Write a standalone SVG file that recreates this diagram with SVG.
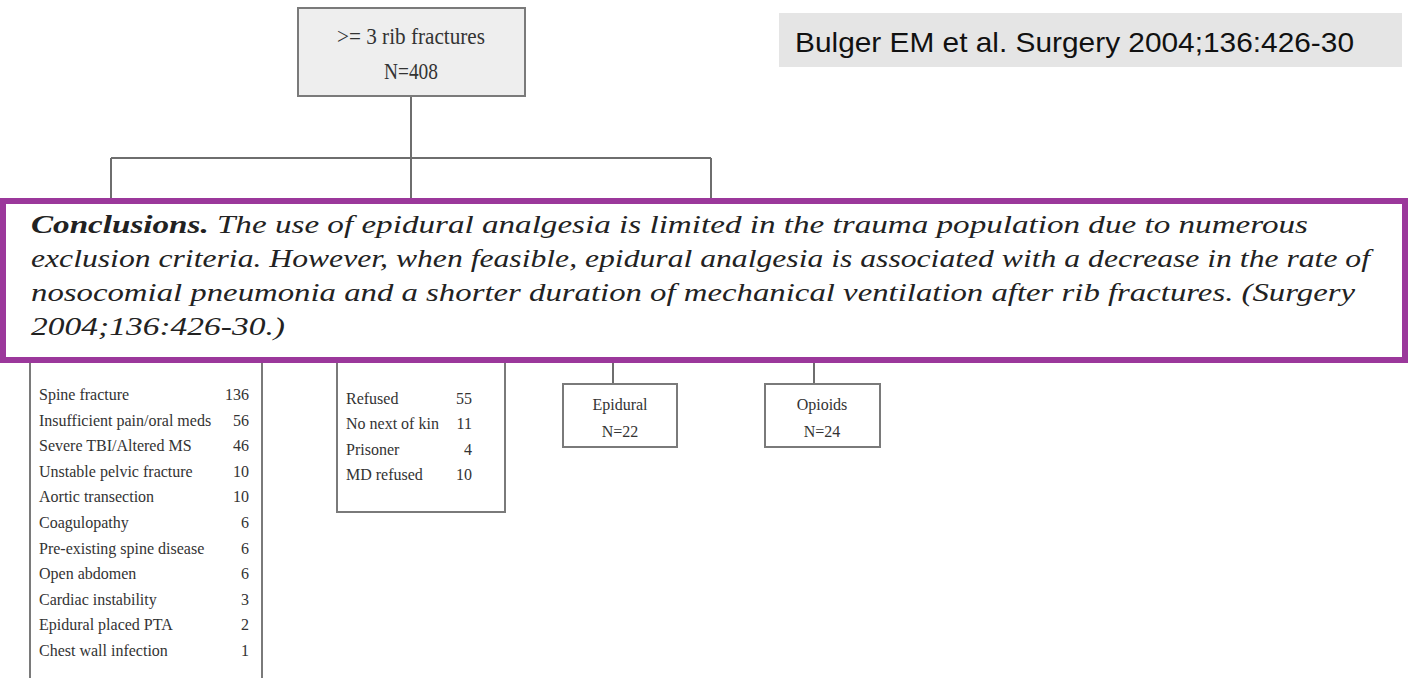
<svg xmlns="http://www.w3.org/2000/svg" width="1409" height="678" viewBox="0 0 1409 678">
<style>
.box{fill:#fff;stroke:#7a7a7a;stroke-width:2}
.conn{stroke:#6e6e6e;stroke-width:2;fill:none}
.t{font-family:"Liberation Serif",serif;font-size:16px;fill:#333}
.tr{font-family:"Liberation Serif",serif;font-size:16px;fill:#333;text-anchor:end}
.tc{font-family:"Liberation Serif",serif;font-size:16px;fill:#333;text-anchor:middle}
.concl{font-family:"Liberation Serif",serif;font-style:italic;font-size:26px;fill:#222}
</style>
<rect width="1409" height="678" fill="#fff"/>
<g id="connectors">
<line class="conn" x1="411" y1="96" x2="411" y2="200"/>
<line class="conn" x1="111" y1="158" x2="711" y2="158"/>
<line class="conn" x1="111" y1="158" x2="111" y2="200"/>
<line class="conn" x1="711" y1="158" x2="711" y2="200"/>
<line class="conn" x1="613" y1="360" x2="613" y2="383"/>
<line class="conn" x1="814" y1="360" x2="814" y2="383"/>
</g>
<g id="root">
<rect x="298" y="8" width="227" height="88" fill="#eeeeee" stroke="#7a7a7a" stroke-width="2"/>
<text x="411" y="44" font-family="Liberation Serif,serif" font-size="23" fill="#333" text-anchor="middle" textLength="148" lengthAdjust="spacingAndGlyphs">&gt;= 3 rib fractures</text>
<text x="411" y="79" font-family="Liberation Serif,serif" font-size="23" fill="#333" text-anchor="middle" textLength="54" lengthAdjust="spacingAndGlyphs">N=408</text>
</g>
<g id="citation">
<rect x="779" y="13" width="623" height="54" fill="#e5e5e5"/>
<text x="795" y="52" font-family="Liberation Sans,Arial,sans-serif" font-size="28" fill="#111" textLength="559" lengthAdjust="spacingAndGlyphs">Bulger EM et al. Surgery 2004;136:426-30</text>
</g>
<g id="exclusions">
<rect class="box" x="30" y="340" width="232" height="360"/>
<text class="t" x="39" y="400">Spine fracture</text><text class="tr" x="249" y="400">136</text>
<text class="t" x="39" y="425.6">Insufficient pain/oral meds</text><text class="tr" x="249" y="425.6">56</text>
<text class="t" x="39" y="451.2">Severe TBI/Altered MS</text><text class="tr" x="249" y="451.2">46</text>
<text class="t" x="39" y="476.8">Unstable pelvic fracture</text><text class="tr" x="249" y="476.8">10</text>
<text class="t" x="39" y="502.4">Aortic transection</text><text class="tr" x="249" y="502.4">10</text>
<text class="t" x="39" y="528">Coagulopathy</text><text class="tr" x="249" y="528">6</text>
<text class="t" x="39" y="553.6">Pre-existing spine disease</text><text class="tr" x="249" y="553.6">6</text>
<text class="t" x="39" y="579.2">Open abdomen</text><text class="tr" x="249" y="579.2">6</text>
<text class="t" x="39" y="604.8">Cardiac instability</text><text class="tr" x="249" y="604.8">3</text>
<text class="t" x="39" y="630.4">Epidural placed PTA</text><text class="tr" x="249" y="630.4">2</text>
<text class="t" x="39" y="656">Chest wall infection</text><text class="tr" x="249" y="656">1</text>
</g>
<g id="refusals">
<rect class="box" x="337" y="340" width="168" height="172"/>
<text class="t" x="346" y="404">Refused</text><text class="tr" x="472" y="404">55</text>
<text class="t" x="346" y="429">No next of kin</text><text class="tr" x="472" y="429">11</text>
<text class="t" x="346" y="455">Prisoner</text><text class="tr" x="472" y="455">4</text>
<text class="t" x="346" y="480">MD refused</text><text class="tr" x="472" y="480">10</text>
</g>
<g id="epidural">
<rect class="box" x="563" y="384" width="114" height="63"/>
<text class="tc" x="620" y="410">Epidural</text>
<text class="tc" x="620" y="437">N=22</text>
</g>
<g id="opioids">
<rect class="box" x="765" y="384" width="115" height="63"/>
<text class="tc" x="822" y="410">Opioids</text>
<text class="tc" x="822" y="437">N=24</text>
</g>
<g id="conclusions">
<rect x="3" y="201" width="1402" height="159" fill="#fff" stroke="#9b389b" stroke-width="6"/>
<text class="concl" x="31" y="233" textLength="1277" lengthAdjust="spacingAndGlyphs"><tspan font-weight="bold">Conclusions.</tspan> The use of epidural analgesia is limited in the trauma population due to numerous</text>
<text class="concl" x="31" y="267" textLength="1339" lengthAdjust="spacingAndGlyphs">exclusion criteria. However, when feasible, epidural analgesia is associated with a decrease in the rate of</text>
<text class="concl" x="31" y="301" textLength="1324" lengthAdjust="spacingAndGlyphs">nosocomial pneumonia and a shorter duration of mechanical ventilation after rib fractures. (Surgery</text>
<text class="concl" x="31" y="335" textLength="254" lengthAdjust="spacingAndGlyphs">2004;136:426-30.)</text>
</g>
</svg>
